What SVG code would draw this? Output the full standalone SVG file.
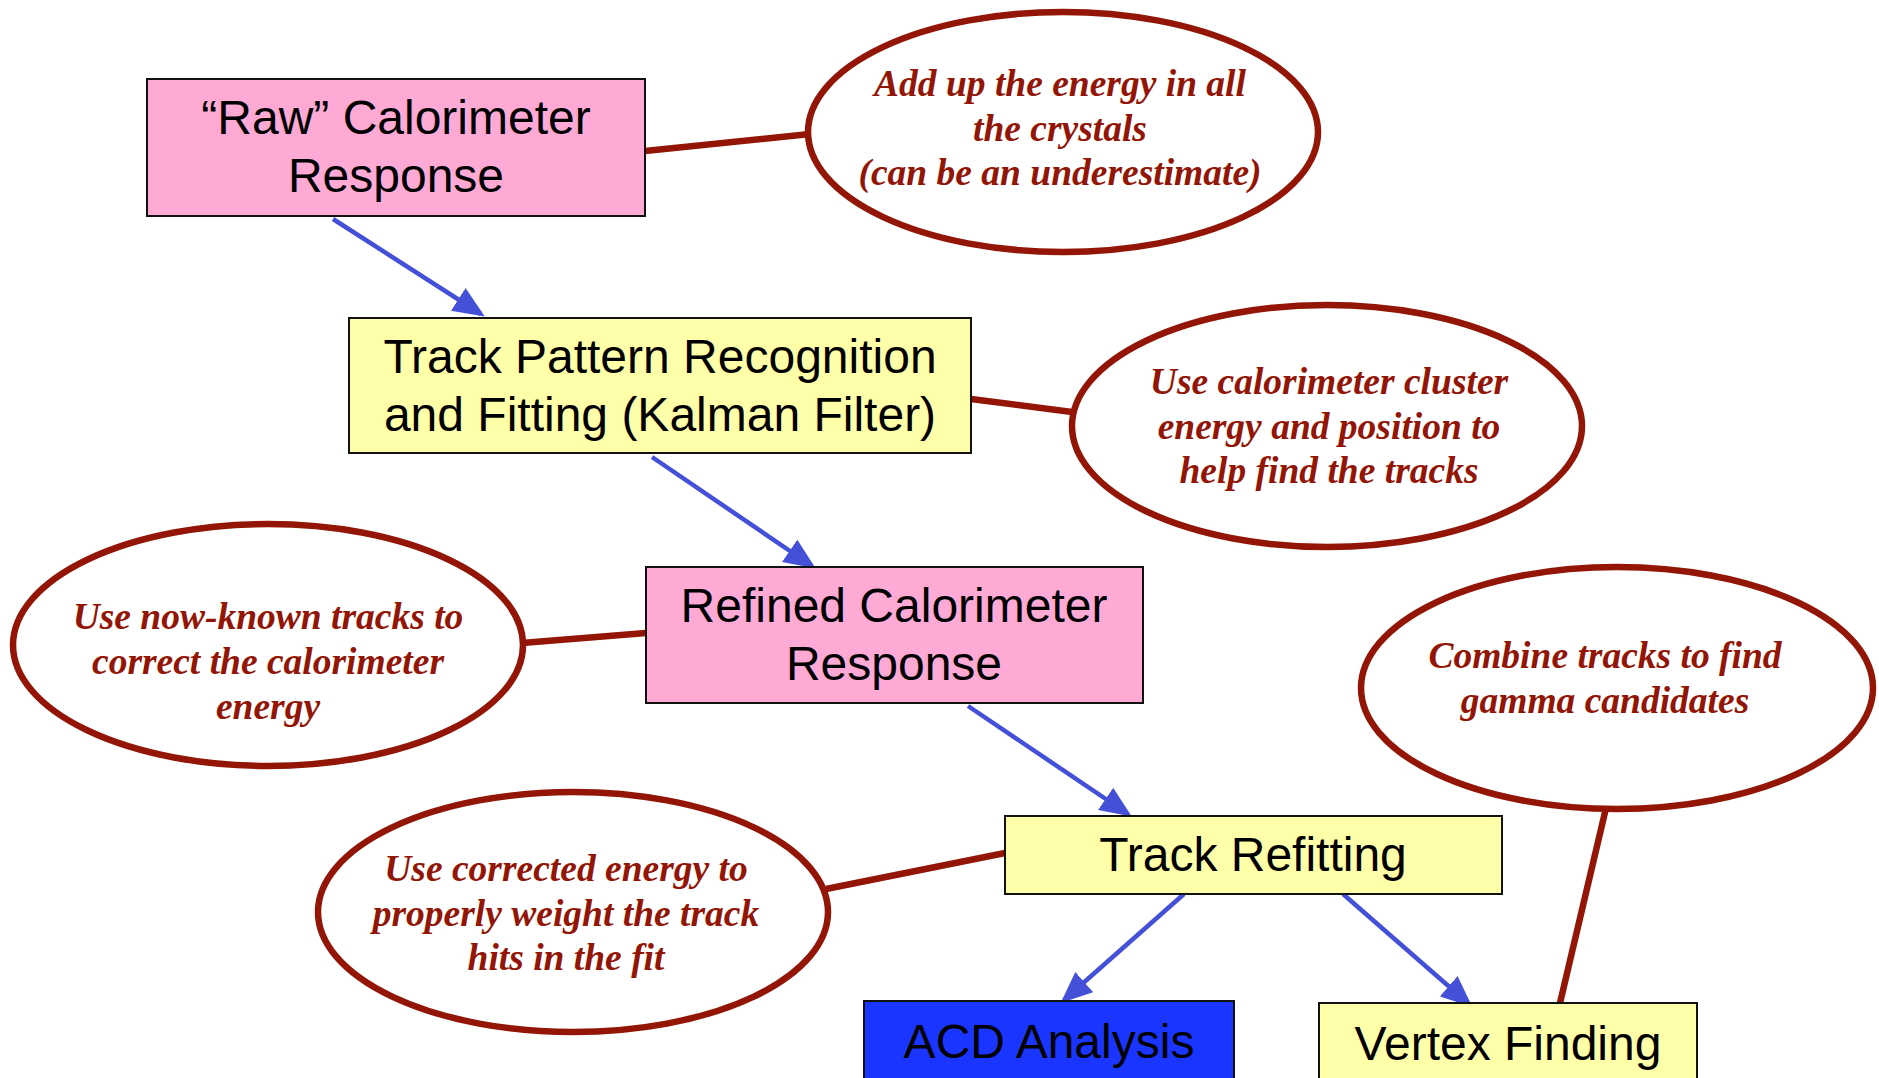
<svg xmlns="http://www.w3.org/2000/svg" width="1879" height="1078" viewBox="0 0 1879 1078">
<style>
.box{stroke:#111;stroke-width:2}
.pink{fill:#ffaad5}
.yellow{fill:#ffffaa}
.blue{fill:#1a35ff}
.bt{font-family:"Liberation Sans",Arial,sans-serif;font-size:48px;fill:#000;text-anchor:middle}
.note{fill:#fff;stroke:#921505;stroke-width:6.5}
.nt{font-family:"Liberation Serif","Times New Roman",serif;font-size:37.5px;font-weight:bold;font-style:italic;fill:#921505;text-anchor:middle}
.link{stroke:#921505;stroke-width:6.5;fill:none}
.arrow{stroke:#4450d8;stroke-width:4.5;fill:none;marker-end:url(#ah)}
</style>
<defs>
<marker id="ah" markerWidth="7" markerHeight="6" refX="6" refY="3" orient="auto" markerUnits="strokeWidth">
<path d="M0,0 L7,3 L0,6 Z" fill="#4450d8"/>
</marker>
</defs>
<rect width="1879" height="1078" fill="#fff"/>
<g id="connectors">
<line class="link" x1="645" y1="151" x2="810" y2="134"/>
<line class="link" x1="971" y1="399" x2="1072" y2="412"/>
<line class="link" x1="522" y1="643" x2="646" y2="633"/>
<line class="link" x1="826" y1="889" x2="1005" y2="853"/>
<line class="link" x1="1606" y1="808" x2="1560" y2="1003"/>
<line class="arrow" x1="333" y1="219" x2="481" y2="314"/>
<line class="arrow" x1="652" y1="457" x2="812" y2="566"/>
<line class="arrow" x1="968" y1="706" x2="1128" y2="814"/>
<line class="arrow" x1="1184" y1="894" x2="1064" y2="1000"/>
<line class="arrow" x1="1343" y1="894" x2="1469" y2="1004"/>
</g>
<g id="raw">
<rect class="box pink" x="147" y="79" width="498" height="137"/>
<text class="bt" x="396" y="134">“Raw” Calorimeter</text>
<text class="bt" x="396" y="192">Response</text>
</g>
<g id="track">
<rect class="box yellow" x="349" y="318" width="622" height="135"/>
<text class="bt" x="660" y="373">Track Pattern Recognition</text>
<text class="bt" x="660" y="431">and Fitting (Kalman Filter)</text>
</g>
<g id="refined">
<rect class="box pink" x="646" y="567" width="497" height="136"/>
<text class="bt" x="894" y="622">Refined Calorimeter</text>
<text class="bt" x="894" y="680">Response</text>
</g>
<g id="refit">
<rect class="box yellow" x="1005" y="816" width="497" height="78"/>
<text class="bt" x="1253" y="871">Track Refitting</text>
</g>
<g id="acd">
<rect class="box blue" x="864" y="1001" width="370" height="90"/>
<text class="bt" x="1049" y="1058">ACD Analysis</text>
</g>
<g id="vertex">
<rect class="box yellow" x="1319" y="1003" width="378" height="90"/>
<text class="bt" x="1508" y="1060">Vertex Finding</text>
</g>
<g id="note1">
<ellipse class="note" cx="1063" cy="132" rx="255" ry="120"/>
<text class="nt" x="1060" y="96">Add up the energy in all</text>
<text class="nt" x="1060" y="141">the crystals</text>
<text class="nt" x="1060" y="185">(can be an underestimate)</text>
</g>
<g id="note2">
<ellipse class="note" cx="1327" cy="426" rx="255" ry="121"/>
<text class="nt" x="1329" y="394">Use calorimeter cluster</text>
<text class="nt" x="1329" y="439">energy and position to</text>
<text class="nt" x="1329" y="483">help find the tracks</text>
</g>
<g id="note3">
<ellipse class="note" cx="268" cy="645" rx="255" ry="121"/>
<text class="nt" x="268" y="629">Use now-known tracks to</text>
<text class="nt" x="268" y="674">correct the calorimeter</text>
<text class="nt" x="268" y="719">energy</text>
</g>
<g id="note4">
<ellipse class="note" cx="1617" cy="688" rx="256" ry="121"/>
<text class="nt" x="1605" y="668">Combine tracks to find</text>
<text class="nt" x="1605" y="713">gamma candidates</text>
</g>
<g id="note5">
<ellipse class="note" cx="573" cy="912" rx="255" ry="120"/>
<text class="nt" x="566" y="881">Use corrected energy to</text>
<text class="nt" x="566" y="926">properly weight the track</text>
<text class="nt" x="566" y="970">hits in the fit</text>
</g>
</svg>
